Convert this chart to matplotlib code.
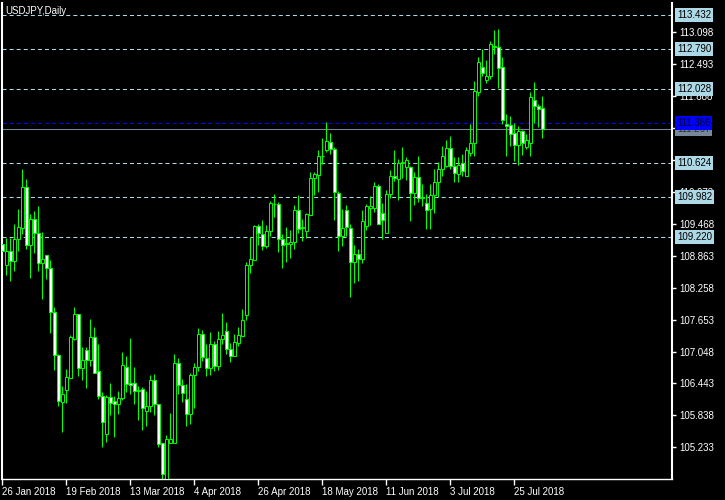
import numpy as np
import pandas as pd
import matplotlib
matplotlib.use("Agg")
import matplotlib.pyplot as plt
import matplotlib.transforms as mtransforms


# USDJPY daily candles (26 Jan 2018 - 3 Aug 2018)
opens = [
    109.09, 108.69, 108.96, 108.76, 109.18, 109.39, 110.17, 109.06, 109.56, 109.30,
    108.72, 108.87, 108.63, 107.79, 106.98, 106.10, 106.31, 106.55, 107.29, 107.76,
    106.73, 107.08, 106.88, 107.33, 106.67, 106.21, 105.48, 106.19, 106.11, 106.05,
    106.16, 106.75, 106.45, 106.45, 106.32, 106.34, 105.93, 106.01, 106.51, 106.06,
    105.31, 104.63, 105.31, 105.31, 106.84, 106.42, 106.15, 105.86, 106.60, 106.75,
    107.38, 106.93, 106.73, 107.20, 106.77, 107.28, 107.44, 107.10, 106.97, 107.21,
    107.34, 107.75, 108.68, 108.79, 109.42, 109.28, 109.04, 109.33, 109.85, 109.85,
    109.18, 109.10, 109.08, 109.13, 109.73, 109.39, 109.34, 109.64, 110.33, 110.40,
    110.76, 110.87, 111.03, 110.89, 110.06, 109.24, 109.73, 109.39, 108.74, 108.90,
    108.80, 109.43, 109.77, 109.77, 110.19, 109.68, 109.30, 110.04, 110.37, 110.32,
    110.63, 110.55, 110.55, 110.05, 110.36, 109.96, 109.87, 109.75, 110.02, 110.26,
    110.50, 110.56, 110.91, 110.57, 110.41, 110.62, 110.38, 110.82, 111.01, 111.97,
    112.45, 112.20, 112.27, 112.85, 112.83, 112.45, 111.37, 111.34, 111.19, 110.96,
    111.23, 110.93, 111.01, 111.82, 111.70, 111.66,
]
highs = [
    109.41, 109.20, 109.20, 109.46, 109.75, 110.50, 110.31, 109.66, 109.72, 109.80,
    109.32, 108.88, 108.79, 107.90, 107.00, 106.39, 106.72, 107.37, 107.90, 107.76,
    107.14, 107.14, 107.67, 107.52, 107.20, 106.29, 106.22, 106.45, 106.21, 106.30,
    107.04, 106.97, 107.30, 106.75, 106.40, 106.37, 106.30, 106.61, 106.63, 106.06,
    105.32, 105.47, 105.89, 107.01, 106.93, 106.53, 106.43, 106.65, 106.84, 107.49,
    107.46, 107.19, 107.41, 107.25, 107.44, 107.78, 107.61, 107.21, 107.38, 107.52,
    107.86, 108.74, 109.22, 109.45, 109.47, 109.55, 109.45, 109.90, 110.04, 109.88,
    109.28, 109.40, 109.36, 109.83, 110.02, 109.57, 109.68, 110.46, 110.45, 110.87,
    111.09, 111.40, 111.20, 110.93, 110.09, 109.75, 109.83, 109.47, 109.07, 108.99,
    109.74, 109.85, 110.00, 110.27, 110.23, 109.86, 110.12, 110.49, 110.86, 110.70,
    110.92, 110.74, 110.57, 110.46, 110.76, 110.23, 110.04, 110.23, 110.50, 110.65,
    110.95, 111.06, 111.14, 110.74, 110.74, 110.80, 110.92, 111.37, 112.18, 112.63,
    112.79, 112.57, 112.94, 113.14, 113.17, 112.63, 111.55, 111.52, 111.39, 111.32,
    111.25, 111.17, 111.97, 112.16, 111.74, 111.89,
]
lows = [
    108.57, 108.49, 108.39, 108.58, 108.96, 109.28, 108.99, 108.44, 108.91, 108.58,
    108.05, 108.43, 107.40, 106.70, 106.01, 105.53, 106.07, 106.55, 107.26, 106.58,
    106.51, 106.35, 106.78, 106.65, 106.15, 105.23, 105.33, 105.84, 105.43, 105.87,
    106.13, 106.29, 106.24, 106.05, 105.75, 105.56, 105.64, 105.91, 105.85, 105.23,
    104.62, 104.63, 105.31, 105.31, 106.25, 106.10, 105.63, 105.67, 105.97, 106.68,
    106.86, 106.59, 106.61, 106.68, 106.69, 107.19, 107.00, 106.85, 106.97, 107.16,
    107.34, 107.65, 108.53, 108.78, 109.06, 108.97, 109.01, 109.23, 109.59, 108.93,
    108.64, 108.74, 108.82, 108.99, 109.30, 109.14, 109.20, 109.63, 110.02, 110.07,
    110.61, 110.83, 110.80, 109.55, 108.95, 109.04, 109.23, 108.09, 108.34, 108.38,
    108.72, 109.36, 109.45, 109.69, 109.46, 109.19, 109.29, 109.95, 110.29, 109.92,
    110.34, 110.30, 109.53, 109.83, 109.88, 109.80, 109.37, 109.37, 109.67, 109.97,
    110.37, 110.54, 110.50, 110.27, 110.27, 110.37, 110.37, 110.76, 110.76, 111.89,
    112.27, 112.13, 112.22, 112.68, 112.05, 111.37, 110.75, 110.95, 110.66, 110.59,
    110.78, 110.89, 110.75, 111.39, 111.31, 111.09,
]
closes = [
    108.96, 108.96, 108.76, 109.18, 109.40, 110.17, 109.06, 109.56, 109.29, 108.72,
    108.80, 108.63, 107.79, 106.98, 106.11, 106.24, 106.57, 107.33, 107.76, 106.74,
    106.88, 106.89, 107.33, 106.65, 106.21, 105.71, 106.19, 106.08, 106.05, 106.17,
    106.80, 106.43, 106.42, 106.30, 106.30, 105.97, 106.02, 106.51, 106.05, 105.29,
    104.72, 105.39, 105.39, 106.84, 106.41, 106.26, 105.86, 106.61, 106.76, 107.38,
    106.94, 106.73, 107.20, 106.77, 107.29, 107.36, 107.09, 106.97, 107.23, 107.36,
    107.65, 108.69, 108.80, 109.43, 109.29, 109.04, 109.33, 109.87, 109.84, 109.18,
    109.06, 109.09, 109.13, 109.73, 109.38, 109.40, 109.66, 110.34, 110.41, 110.76,
    110.76, 111.04, 110.89, 110.07, 109.24, 109.39, 109.40, 108.75, 108.90, 108.80,
    109.52, 109.81, 109.81, 110.19, 109.46, 109.54, 110.04, 110.38, 110.33, 110.62,
    110.65, 110.68, 110.05, 110.36, 109.95, 109.98, 109.73, 110.02, 110.27, 110.50,
    110.76, 110.91, 110.56, 110.44, 110.59, 110.47, 110.86, 111.01, 111.99, 112.53,
    112.33, 112.27, 112.87, 112.83, 112.43, 111.44, 111.33, 111.18, 110.96, 111.23,
    111.01, 111.06, 111.87, 111.71, 111.65, 111.267,
]

dates = pd.bdate_range("2018-01-26", periods=len(closes))

level_lines = [113.432, 112.790, 112.028, 110.624, 109.982, 109.220]
ask_price = 111.386
bid_price = 111.267

price_ticks = [105.233, 105.838, 106.443, 107.048, 107.653, 108.258, 108.863,
               109.468, 110.073, 110.678, 111.283, 111.888, 112.493, 113.098]
# 111.283 sits fully under the bid/ask boxes in the terminal, so no label
hidden_ticks = [111.283]
date_tick_idx = [0, 16, 32, 48, 64, 80, 96, 112, 128]

plt.rcParams["font.family"] = ["Liberation Sans", "DejaVu Sans"]
plt.rcParams["lines.scale_dashes"] = False

GREEN = "#00ff00"
LBLUE = "#add8e6"

fig = plt.figure(figsize=(7.25, 5), dpi=100, facecolor="black")
ax = fig.add_axes([2 / 725, 21 / 500, 670 / 725, 476 / 500])
ax.set_facecolor("black")

o = np.array(opens)
h = np.array(highs)
l = np.array(lows)
c = np.array(closes)
x = np.arange(len(c))
up = c >= o

# level lines
for lv in level_lines:
    ax.axhline(lv, color=LBLUE, lw=0.75, dashes=(2.9, 2.2), zorder=1)
ax.axhline(ask_price, color="#0000ff", lw=0.75, dashes=(2.9, 2.2), zorder=1)
ax.axhline(bid_price, color="#778899", lw=0.75, zorder=1)

# candles
ax.vlines(x, l, h, color=GREEN, lw=0.8, zorder=2)
body = np.maximum(np.abs(c - o), 0.004)
ax.bar(x, body, bottom=np.minimum(o, c), width=0.6,
       color=np.where(up, "black", "white"), edgecolor=GREEN,
       linewidth=0.7, zorder=3)

ax.set_xlim(-0.075, 167.4)
ax.set_ylim(104.632, 113.656)

for side in ["left", "right"]:
    ax.spines[side].set_color("white")
    ax.spines[side].set_linewidth(1.5)
ax.spines["bottom"].set_color("white")
ax.spines["bottom"].set_linewidth(1)
ax.spines["top"].set_visible(False)

ax.set_yticks(price_ticks)
ax.set_yticklabels(["" if p in hidden_ticks else f"{p:.3f}" for p in price_ticks])
ax.tick_params(axis="y", left=False, right=True, labelleft=False,
               labelright=True, colors="white", length=3, width=1,
               pad=2, labelsize=7)

ax.set_xticks(date_tick_idx)
ax.set_xticklabels([f"{dates[i].day} {dates[i]:%b %Y}" for i in date_tick_idx])
ax.tick_params(axis="x", colors="white", length=4, width=1, pad=2,
               labelsize=7)
for lab in ax.get_xticklabels():
    lab.set_ha("left")

trans = mtransforms.blended_transform_factory(ax.transAxes, ax.transData)


def price_box(val, fc, tc="black"):
    ax.text(1.0 + 5 / 670, val, f"{val:.3f}", transform=trans,
            ha="left", va="center", fontsize=7, color=tc, zorder=6,
            clip_on=False,
            bbox=dict(boxstyle="square,pad=0.2", fc=fc, ec="none"))


for lv in level_lines:
    price_box(lv, LBLUE)
price_box(bid_price, "#778899", "#303030")
price_box(ask_price, "#0000ff", "#000030")

fig.text(5 / 725, 1 - 11 / 500, "USDJPY,Daily", color="white",
         fontsize=7, va="center", ha="left")

fig.savefig("out.png", dpi=100, facecolor="black")
